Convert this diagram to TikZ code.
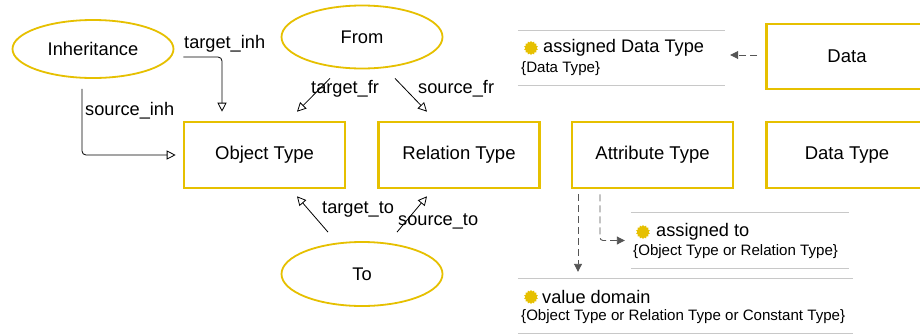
\documentclass[tikz,border=0pt]{standalone}
\usepackage{fontspec}
\setmainfont{Liberation Sans}
\usetikzlibrary{shapes.geometric,arrows.meta}
\definecolor{gold}{RGB}{230,192,0}
\definecolor{rulegray}{RGB}{200,200,200}
\definecolor{depgray}{RGB}{85,85,85}

\begin{document}
\begin{tikzpicture}[x=1pt,y=-1pt,
	ent/.style={ellipse,draw=gold,line width=1.8pt,inner sep=0pt,font=\fontsize{18.3}{21}\selectfont},
	typebox/.style={rectangle,draw=gold,line width=2.6pt,minimum width=161pt,minimum height=66pt,inner sep=0pt,font=\fontsize{18.5}{21}\selectfont},
	role/.style={anchor=west,inner sep=0pt,font=\fontsize{18.2}{21}\selectfont},
	conn/.style={black,line width=0.8pt,rounded corners=4pt,-{Triangle[open,length=9pt,width=9pt]}},
	dep/.style={depgray,line width=0.9pt,dash pattern=on 7pt off 4pt,-{Triangle[length=8pt,width=8pt]}},
	attrbox/.style={rectangle,inner sep=0pt},
	sep/.style={rulegray,line width=1.2pt},
	attrname/.style={anchor=west,inner sep=0pt,font=\fontsize{18.2}{21}\selectfont},
	attrdom/.style={anchor=west,inner sep=0pt,font=\fontsize{15.1}{17}\selectfont},
	dot/.style={star,star points=14,star point ratio=1.25,fill=gold,minimum size=14pt,inner sep=0pt}]
	\clip (0,0) rectangle (920,335);
	\fill[white] (0,0) rectangle (920,335);
	\node[ent,minimum width=161pt,minimum height=58pt] (inh) at (93,49) {Inheritance};
	\node[ent,minimum width=161pt,minimum height=63pt] (from) at (362,37) {From};
	\node[ent,minimum width=161pt,minimum height=64pt] (to) at (362,274) {To};
	\node[typebox] (obj) at (264.5,155) {Object Type};
	\node[typebox] (rel) at (459,155) {Relation Type};
	\node[typebox] (attr) at (652.5,155) {Attribute Type};
	\node[typebox] (dtype) at (847,155) {Data Type};
	\node[typebox,minimum height=65pt] (data) at (847,56.5) {Data};
	\draw[conn,shorten >=9pt] ([shift={(9,8)}]inh.east) -| ([xshift=-42.5]obj.north);
	\draw[conn,shorten >=7pt] ([shift={(-11,10)}]inh.south) |- (obj.west);
	\draw[conn] ([shift={(-32,9)}]from.south) -- ([shift={(32.5,-9)}]obj.north);
	\draw[conn] ([shift={(33,9)}]from.south) -- ([shift={(-32,-9)}]rel.north);
	\draw[conn] ([shift={(-34,-9)}]to.north) -- ([shift={(32.5,7)}]obj.south);
	\draw[conn] ([shift={(35,-9)}]to.north) -- ([shift={(-32,7)}]rel.south);
	\node[role] (tinh) at (184,44) {target\_inh};
	\node[role] (sinh) at (85,111) {source\_inh};
	\node[role] (tfr) at (311,89) {target\_fr};
	\node[role] (sfr) at (418,89) {source\_fr};
	\node[role] (tto) at (322,209) {target\_to};
	\node[role] (sto) at (398,221) {source\_to};
	\node[attrbox,minimum width=207pt,minimum height=54pt] (adt) at (621.5,58) {};
	\node[attrbox,minimum width=218pt,minimum height=55pt] (ato) at (740,240.5) {};
	\node[attrbox,minimum width=335pt,minimum height=54pt] (vdom) at (685.5,306) {};
	\foreach \b in {adt,ato,vdom} {
		\draw[sep] (\b.north west) -- (\b.north east);
		\draw[sep] (\b.south west) -- (\b.south east);
	}
	\node[dot] (adtdot) at (531,48) {};
	\node[attrname] (adtname) at (543,48) {assigned Data Type};
	\node[attrdom] (adtdom) at (521,69) {\{Data Type\}};
	\node[dot] (atodot) at (643,232) {};
	\node[attrname] (atoname) at (656,232) {assigned to};
	\node[attrdom] (atodom) at (633,252) {\{Object Type or Relation Type\}};
	\node[dot] (vdomdot) at (531,297) {};
	\node[attrname] (vdomname) at (542,297) {value domain};
	\node[attrdom] (vdomdom) at (521,317) {\{Object Type or Relation Type or Constant Type\}};
	\draw[dep,shorten <=8pt,shorten >=5pt] ([yshift=1.5]data.west) -- ([yshift=1.5]data.west -| adt.east);
	\draw[dep,shorten <=5pt,shorten >=7pt] ([xshift=-74.5]attr.south) -- ([xshift=-74.5]attr.south |- vdom.north);
	\draw[dep,rounded corners=3pt,shorten <=5pt,shorten >=6pt] ([xshift=-52.5]attr.south) |- (ato.west);
\end{tikzpicture}
\end{document}
